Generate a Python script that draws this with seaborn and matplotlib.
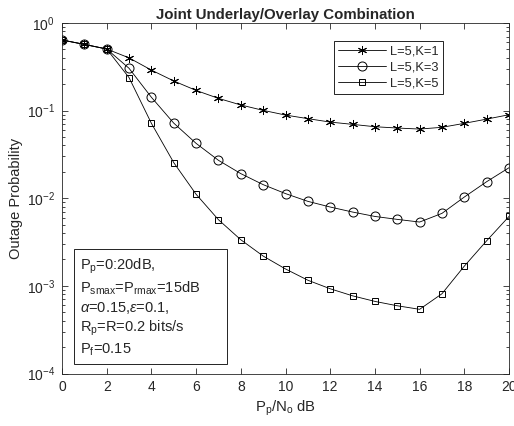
import numpy as np
import pandas as pd
import seaborn as sns
import matplotlib
matplotlib.use("Agg")
import matplotlib.pyplot as plt

sns.set_style("ticks")
plt.rcParams['font.family'] = ['Liberation Sans', 'DejaVu Sans']
plt.rcParams['mathtext.fontset'] = 'custom'
plt.rcParams['mathtext.rm'] = 'Liberation Sans'
plt.rcParams['mathtext.it'] = 'Liberation Sans:italic'
plt.rcParams['mathtext.bf'] = 'Liberation Sans:bold'

## data
snr_db = list(range(0, 21))
k1 = [0.64, 0.57, 0.505, 0.40, 0.29, 0.218, 0.17, 0.138, 0.116, 0.1007, 0.089,
      0.081, 0.074, 0.0697, 0.0655, 0.0633, 0.0616, 0.0645, 0.0716, 0.080, 0.0898]
k3 = [0.64, 0.57, 0.505, 0.304, 0.142, 0.072, 0.0423, 0.0271, 0.0191, 0.0143, 0.0113,
      0.00922, 0.00794, 0.00696, 0.0062, 0.00574, 0.00535, 0.00672, 0.01032, 0.01545, 0.0223]
k5 = [0.64, 0.57, 0.505, 0.238, 0.0716, 0.0255, 0.0111, 0.00569, 0.00336, 0.00219, 0.00156,
      0.00116, 0.000927, 0.00077, 0.000665, 0.000593, 0.00054, 0.000813, 0.00168, 0.00327, 0.0062]
labels = ['L=5,K=1', 'L=5,K=3', 'L=5,K=5']

df = pd.DataFrame({'x': snr_db * 3,
                   'y': k1 + k3 + k5,
                   'curve': np.repeat(labels, len(snr_db))})

fig = plt.figure(figsize=(5.14, 4.26), dpi=100)
ax = fig.add_axes([62/514, 1-373.5/426, 447/514, 350.5/426])

markers = {'L=5,K=1': (6, 2, 0), 'L=5,K=3': 'o', 'L=5,K=5': 's'}
sizes = {'L=5,K=1': 6.5, 'L=5,K=3': 6.5, 'L=5,K=5': 5}
for lab in labels:
    sub = df[df['curve'] == lab]
    sns.lineplot(data=sub, x='x', y='y', ax=ax, color='black', lw=0.6,
                 marker=markers[lab], markersize=sizes[lab], markerfacecolor='none',
                 markeredgecolor='black', markeredgewidth=0.7, label=lab)

ax.set_yscale('log')
ax.set_xlim(0, 20)
ax.set_ylim(1e-4, 1)
ax.set_xticks(range(0, 21, 2))
ax.tick_params(which='both', direction='in', top=True, right=True, labelsize=10,
               width=0.6, color='#262626', labelcolor='#262626')
ax.tick_params(which='major', length=4, pad=5)
ax.tick_params(which='minor', length=2.2)
for s in ax.spines.values():
    s.set_linewidth(0.6)
    s.set_color('#262626')

ax.set_xlabel(r'P$_{\mathrm{p}}$/N$_{\mathrm{o}}$ dB', fontsize=10.7, color='#262626', labelpad=3)
ax.set_ylabel('Outage Probability', fontsize=10.5, color='#262626', labelpad=3)
ax.set_title('Joint Underlay/Overlay Combination', fontsize=10.8, fontweight='bold', pad=3)

leg = ax.legend(loc='upper right', bbox_to_anchor=(0.853, 0.948), borderaxespad=0,
                fancybox=False, framealpha=1, edgecolor='black', fontsize=9.3,
                handlelength=3.7, handletextpad=0.3, labelspacing=0.3, borderpad=0.35)
leg.get_frame().set_linewidth(0.6)

txt = ('P$_{\\mathrm{p}}$=0:20dB,\n'
       'P$_{\\mathrm{smax}}$=P$_{\\mathrm{rmax}}$=15dB      \n'
       '$\\alpha$=0.15,$\\epsilon$=0.1,\n'
       'R$_{\\mathrm{p}}$=R=0.2 bits/s\n'
       'P$_{\\mathrm{f}}$=0.15')
ax.text(0.04, 0.045, txt, transform=ax.transAxes, fontsize=10.5, va='bottom', ha='left',
        linespacing=1.25,
        bbox=dict(boxstyle='square,pad=0.4', facecolor='white', edgecolor='black', linewidth=0.6))

fig.savefig('out.png', dpi=100)
